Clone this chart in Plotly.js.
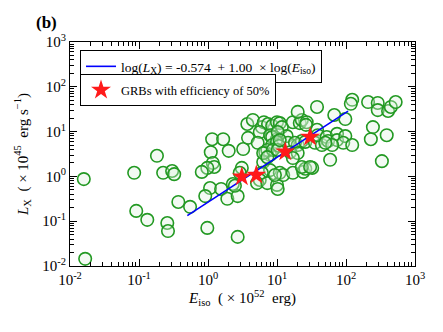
<!DOCTYPE html>
<html>
<head>
<meta charset="utf-8">
<script src="https://cdn.plot.ly/plotly-3.0.1.min.js"></script>
<style>
  html, body { margin: 0; padding: 0; background: #fff; }
  #chart { width: 443px; height: 332px; }
</style>
</head>
<body>
<div id="chart"></div>
<script>
// log10 of E_iso (1e52 erg) and L_X (1e45 erg/s)
var logE = [
  -1.80, -1.78, -1.07, -1.04, -0.88, -0.74, -0.65, -0.52, -0.49, -0.59,
  -0.58, -0.43, -0.26, -0.01, 0.06, 0.22, 0.30, 0.04, 0.07, 0.09,
  -0.01, -0.09, 0.03, -0.04, 0.19, 0.28, 0.36, 0.43, 0.43, 0.51,
  0.57, 0.65, 0.58, 0.49, 0.46, 0.39, 0.78, 0.81, 0.87, 0.93,
  1.00, 1.04, 1.07, 1.23, 1.33, 1.36, 1.43, 1.42, 1.30, 1.58,
  1.83, 1.99, 2.09, 2.07, 2.32, 2.46, 2.46, 2.61, 2.65, 2.72,
  0.75, 0.90, 1.00, 0.93, 1.14, 1.01, 0.72, 0.93, 0.83, 1.00,
  0.90, 0.80, 0.86, 0.80, 0.94, 0.86, 0.90, 0.78, 0.75, 0.71,
  0.86, 1.00, 1.01, 1.04, 1.09, 1.23, 1.38, 1.41, 1.51, 0.97,
  1.16, 1.03, 1.30, 1.36, 1.26, 1.41, 1.55, 1.65, 1.58, 1.59,
  1.72, 1.74, 1.87, 1.87, 1.99, 1.96, 2.09, 1.80, 1.70, 1.19,
  1.30, 1.01, 1.23, 1.77, 2.39, 2.36, 2.59, 2.52, 1.36, 1.48,
  1.04
];
var logL = [
  -0.06, -1.84, 0.08, -0.77, -0.97, 0.46, 0.08, 0.12, 0.05, -1.04,
  -1.22, -0.57, -0.68, -1.15, 0.83, 0.83, 0.57, 0.54, 0.30, 0.21,
  0.19, 0.10, -0.26, -0.44, -0.28, -0.50, -0.17, -0.44, -1.35, 0.61,
  1.17, 1.26, 0.86, 0.19, 0.08, -0.21, 1.10, 1.21, 1.17, 1.13,
  1.21, 1.19, 1.10, 1.21, 1.19, 1.26, 1.21, 1.15, 1.44, 1.55,
  1.37, 1.28, 1.71, 1.62, 1.66, 1.64, 1.48, 1.46, 1.55, 1.66,
  0.99, 0.92, 0.83, 0.88, 0.90, 0.99, 0.75, 0.70, 0.54, 0.77,
  0.48, 0.32, 0.59, 0.52, 0.59, 0.43, 0.14, 0.08, -0.08, -0.15,
  -0.15, -0.19, -0.28, 0.08, 0.03, 0.08, 0.10, 0.17, 0.19, 0.03,
  0.75, 0.68, 0.70, 0.79, 0.75, 0.77, 0.75, 0.70, 1.04, 0.92,
  0.88, 0.79, 0.95, 0.81, 0.90, 0.75, 0.70, 0.70, 0.75, 0.54,
  0.52, 0.59, 0.41, 0.37, 1.10, 0.83, 0.92, 0.34, 0.21, 0.21,
  0.81
];

// GRBs with efficiency of 50%
var starLogE = [0.49, 0.70, 1.12, 1.48];
var starLogL = [-0.01, 0.03, 0.55, 0.88];

// fitted line end points
var fitLogE = [-0.30, 2.03];
var fitLogL = [-0.875, 1.456];

function pow10(arr) {
  return arr.map(function (v) { return Math.pow(10, v); });
}

var serif = 'Liberation Serif, Times New Roman, serif';

var circles = {
  x: pow10(logE), y: pow10(logL),
  mode: 'markers', type: 'scatter',
  showlegend: false,
  marker: {
    symbol: 'circle',
    size: 12.5,
    color: 'rgba(220,240,220,0.35)',
    line: { color: '#229922', width: 1.6 }
  },
  hoverinfo: 'skip'
};

var fit = {
  x: pow10(fitLogE), y: pow10(fitLogL),
  mode: 'lines', type: 'scatter',
  name: 'log(<i>L</i><sub>X</sub>) = -0.574  + 1.00  × log(<i>E</i><sub>iso</sub>)',
  line: { color: '#0000ff', width: 1.6 },
  legend: 'legend'
};

var stars = {
  x: pow10(starLogE), y: pow10(starLogL),
  mode: 'markers', type: 'scatter',
  name: 'GRBs with efficiency of 50%',
  marker: { symbol: 'star', size: 15, color: '#ff1a1a', line: { width: 0 } },
  legend: 'legend2'
};

var tickVals = [0.01, 0.1, 1, 10, 100, 1000];
var tickText = ['10<sup>-2</sup>', '10<sup>-1</sup>', '10<sup>0</sup>',
                '10<sup>1</sup>', '10<sup>2</sup>', '10<sup>3</sup>'];

function axis(title, standoff) {
  return {
    type: 'log',
    range: [-2, 3],
    tickvals: tickVals,
    ticktext: tickText,
    ticks: 'inside',
    ticklen: 7,
    tickcolor: '#000',
    minor: { ticks: 'inside', ticklen: 4, tickcolor: '#000', dtick: 'D1' },
    showline: true,
    linecolor: '#000',
    linewidth: 1,
    mirror: 'allticks',
    showgrid: false,
    zeroline: false,
    tickfont: { family: serif, size: 15, color: '#000' },
    title: { text: title, standoff: standoff, font: { family: serif, size: 15, color: '#000' } }
  };
}

var layout = {
  width: 443, height: 332,
  margin: { l: 70, r: 28, t: 42, b: 66 },
  paper_bgcolor: '#fff', plot_bgcolor: '#fff',
  xaxis: axis('<i>E</i><sub>iso</sub>  ( × 10<sup>52</sup>  erg)', 4),
  yaxis: axis('<i>L</i><sub>X</sub>  ( × 10<sup>45</sup>  erg s<sup>−1</sup>)', 10),
  legend: {
    x: 0.029, y: 0.964, xanchor: 'left', yanchor: 'top',
    bgcolor: '#fff', bordercolor: '#000', borderwidth: 1,
    font: { family: serif, size: 13.5, color: '#000' }
  },
  legend2: {
    x: 0.029, y: 0.855, xanchor: 'left', yanchor: 'top',
    bgcolor: '#fff', bordercolor: '#000', borderwidth: 1,
    font: { family: serif, size: 12.5, color: '#000' }
  },
  annotations: [{
    text: '<b>(b)</b>', xref: 'paper', yref: 'paper',
    x: -0.105, y: 1.035, xanchor: 'left', yanchor: 'bottom',
    showarrow: false, font: { family: serif, size: 17, color: '#000' }
  }]
};

Plotly.newPlot('chart', [circles, fit, stars], layout, { staticPlot: true });
</script>
</body>
</html>
